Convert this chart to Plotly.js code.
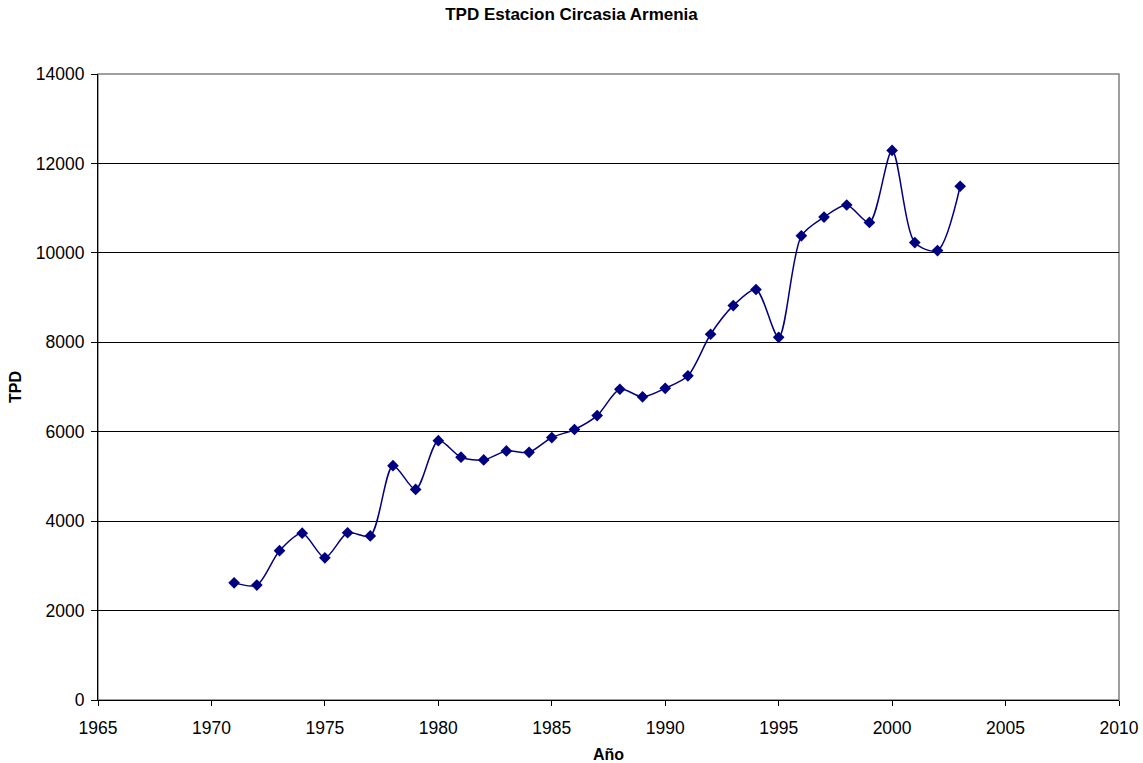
<!DOCTYPE html>
<html>
<head>
<meta charset="utf-8">
<script src="https://cdn.plot.ly/plotly-3.0.1.min.js"></script>
<style>
html,body{margin:0;padding:0;background:#fff;}
#chart{width:1143px;height:763px;}
</style>
</head>
<body>
<div id="chart"></div>
<script>
var years = [1971,1972,1973,1974,1975,1976,1977,1978,1979,1980,1981,1982,1983,1984,1985,1986,1987,1988,1989,1990,1991,1992,1993,1994,1995,1996,1997,1998,1999,2000,2001,2002,2003];
var tpd = [2620,2570,3340,3730,3180,3740,3670,5240,4710,5800,5430,5370,5570,5540,5870,6050,6360,6950,6780,6970,7250,8180,8820,9180,8110,10380,10800,11070,10680,12290,10230,10050,11490];
var xTicks = [1965,1970,1975,1980,1985,1990,1995,2000,2005,2010];
var yTicks = [0,2000,4000,6000,8000,10000,12000,14000];

var fontFam = 'Liberation Sans, Arial, sans-serif';

var trace = {
  x: years,
  y: tpd,
  type: 'scatter',
  mode: 'lines+markers',
  line: {color: '#000080', width: 1.5, shape: 'spline', smoothing: 0.8},
  marker: {symbol: 'diamond', size: 9, color: '#000080'},
  name: 'TPD',
  showlegend: false
};

var layout = {
  width: 1143,
  height: 763,
  margin: {l: 98, r: 24, t: 74, b: 63},
  paper_bgcolor: '#ffffff',
  plot_bgcolor: '#ffffff',
  font: {family: fontFam, color: '#000000', size: 17},
  title: {
    text: '<b>TPD Estacion Circasia Armenia</b>',
    font: {family: fontFam, size: 17, color: '#000'},
    x: 0.5, xref: 'container',
    y: 1 - 14/763, yref: 'container', yanchor: 'middle'
  },
  xaxis: {
    range: [1965, 2010],
    tickvals: xTicks,
    ticktext: xTicks.map(String),
    showgrid: false,
    zeroline: false,
    showline: true,
    linecolor: '#000',
    linewidth: 1,
    ticks: 'outside',
    ticklen: 5,
    tickcolor: '#000',
    ticklabelstandoff: 7,
    tickfont: {size: 17.5, family: fontFam},
    title: {text: '<b>Año</b>', font: {size: 16, family: fontFam}, standoff: 12}
  },
  yaxis: {
    range: [0, 14000],
    tickvals: yTicks,
    ticktext: yTicks.map(String),
    showgrid: true,
    gridcolor: '#000',
    gridwidth: 1,
    zeroline: false,
    showline: true,
    linecolor: '#000',
    linewidth: 1,
    ticks: 'outside',
    ticklen: 6,
    tickcolor: '#000',
    ticklabelstandoff: 3,
    tickfont: {size: 17.5, family: fontFam},
    title: {text: '<b>TPD</b>', font: {size: 16, family: fontFam}, standoff: 10}
  },
  shapes: [{
    type: 'rect', xref: 'paper', yref: 'paper',
    x0: 0, x1: 1, y0: 0, y1: 1,
    line: {color: '#808080', width: 1.5},
    layer: 'below'
  }]
};

Plotly.newPlot('chart', [trace], layout, {displayModeBar: false, staticPlot: true});
</script>
</body>
</html>
